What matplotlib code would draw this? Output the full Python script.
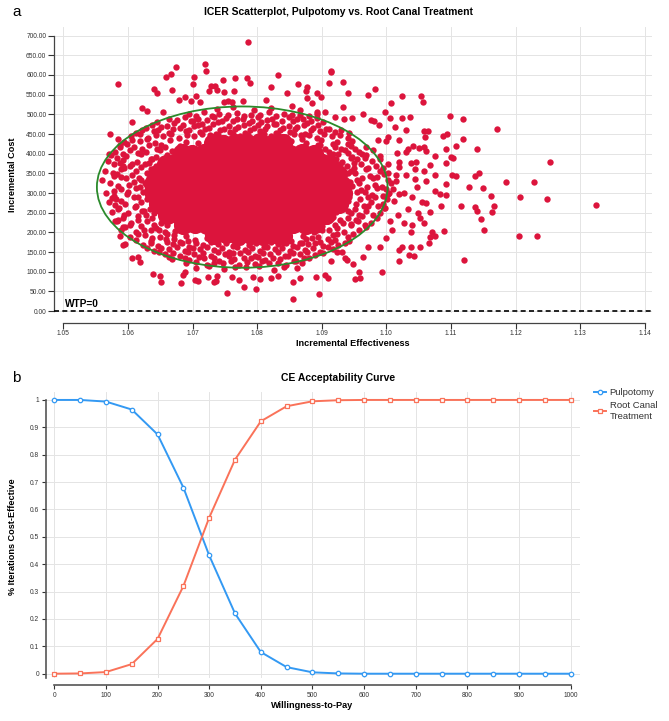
import numpy as np
import matplotlib
matplotlib.use("Agg")
import matplotlib.pyplot as plt
from matplotlib.patches import Ellipse

plt.rcParams["font.family"] = ["Liberation Sans", "DejaVu Sans"]

# ---------------- panel a: ICER scatter (incremental effectiveness, incremental cost)
# dense centre of the cloud (points overlap into a solid blob)
CORE_PTS = [
    (1.0733, 193), (1.0752, 195), (1.0771, 192), (1.0790, 194), (1.0809, 191), (1.0828, 195),
    (1.0840, 192),
    (1.0685, 219), (1.0704, 221), (1.0723, 218), (1.0742, 220), (1.0761, 217), (1.0780, 221),
    (1.0799, 218), (1.0818, 220), (1.0837, 217), (1.0856, 221), (1.0875, 218), (1.0889, 220),
    (1.0660, 245), (1.0679, 243), (1.0698, 246), (1.0717, 244), (1.0736, 247), (1.0755, 243),
    (1.0774, 246), (1.0793, 244), (1.0812, 247), (1.0831, 243), (1.0850, 246), (1.0869, 244),
    (1.0888, 247), (1.0907, 243),
    (1.0646, 271), (1.0665, 273), (1.0684, 270), (1.0703, 272), (1.0722, 269), (1.0741, 273),
    (1.0760, 270), (1.0779, 272), (1.0798, 269), (1.0817, 273), (1.0836, 270), (1.0855, 272),
    (1.0874, 269), (1.0893, 273), (1.0912, 270), (1.0927, 272),
    (1.0640, 297), (1.0657, 295), (1.0676, 298), (1.0695, 296), (1.0714, 299), (1.0733, 295),
    (1.0752, 298), (1.0771, 296), (1.0790, 299), (1.0809, 295), (1.0828, 298), (1.0847, 296),
    (1.0866, 299), (1.0885, 295), (1.0904, 298), (1.0921, 296), (1.0933, 299),
    (1.0639, 323), (1.0650, 325), (1.0669, 322), (1.0688, 324), (1.0707, 321), (1.0726, 325),
    (1.0745, 322), (1.0764, 324), (1.0783, 321), (1.0802, 325), (1.0821, 322), (1.0840, 324),
    (1.0859, 321), (1.0878, 325), (1.0897, 322), (1.0916, 324), (1.0932, 321),
    (1.0645, 349), (1.0660, 347), (1.0679, 350), (1.0698, 348), (1.0717, 351), (1.0736, 347),
    (1.0755, 350), (1.0774, 348), (1.0793, 351), (1.0812, 347), (1.0831, 350), (1.0850, 348),
    (1.0869, 351), (1.0888, 347), (1.0907, 350), (1.0926, 348),
    (1.0659, 375), (1.0672, 377), (1.0691, 374), (1.0710, 376), (1.0729, 373), (1.0748, 377),
    (1.0767, 374), (1.0786, 376), (1.0805, 373), (1.0824, 377), (1.0843, 374), (1.0862, 376),
    (1.0881, 373), (1.0900, 377), (1.0912, 374),
    (1.0684, 401), (1.0699, 399), (1.0718, 402), (1.0737, 400), (1.0756, 403), (1.0775, 399),
    (1.0794, 402), (1.0813, 400), (1.0832, 403), (1.0851, 399), (1.0870, 402), (1.0888, 400),
    (1.0732, 427), (1.0747, 425), (1.0766, 428), (1.0785, 426), (1.0804, 429), (1.0823, 425),
    (1.0840, 428),
]

# crowded points hugging the solid centre
BAND_PTS = [
    (1.0618, 449), (1.0643, 447), (1.0667, 450), (1.0692, 448), (1.0715, 451), (1.0739, 447),
    (1.0762, 449), (1.0786, 448), (1.0810, 451), (1.0833, 447), (1.0857, 450), (1.0880, 448),
    (1.0904, 451), (1.0928, 447),
    (1.0622, 461), (1.0647, 459), (1.0670, 462), (1.0695, 460), (1.0719, 463), (1.0742, 459),
    (1.0766, 462), (1.0789, 460), (1.0812, 463), (1.0836, 459), (1.0859, 462), (1.0883, 460),
    (1.0906, 463), (1.0930, 459),
    (1.0637, 473), (1.0660, 471), (1.0685, 474), (1.0709, 472), (1.0732, 475), (1.0756, 471),
    (1.0779, 474), (1.0802, 472), (1.0826, 475), (1.0849, 471), (1.0872, 474), (1.0895, 472),
    (1.0676, 485), (1.0700, 483), (1.0722, 486), (1.0746, 484), (1.0769, 487), (1.0792, 483),
    (1.0815, 486), (1.0838, 484), (1.0861, 487), (1.0884, 483),
    (1.0706, 497), (1.0730, 495), (1.0755, 498), (1.0780, 496), (1.0805, 499), (1.0830, 495),
    (1.0854, 498), (1.0880, 496),
    (1.0636, 173), (1.0660, 175), (1.0683, 172), (1.0706, 174), (1.0729, 176), (1.0752, 172),
    (1.0775, 175), (1.0798, 173), (1.0821, 176), (1.0844, 172), (1.0867, 174), (1.0890, 173),
    (1.0914, 175), (1.0936, 172),
    (1.0630, 161), (1.0652, 159), (1.0676, 162), (1.0700, 160), (1.0723, 163), (1.0746, 159),
    (1.0769, 162), (1.0792, 160), (1.0816, 163), (1.0839, 159), (1.0862, 162), (1.0886, 160),
    (1.0909, 163),
    (1.0648, 149), (1.0670, 147), (1.0693, 150), (1.0716, 148), (1.0740, 151), (1.0763, 147),
    (1.0786, 150), (1.0809, 148), (1.0832, 151), (1.0855, 147), (1.0878, 150), (1.0902, 148),
    (1.0664, 137), (1.0688, 135), (1.0710, 138), (1.0734, 136), (1.0757, 139), (1.0780, 135),
    (1.0802, 138), (1.0825, 136), (1.0848, 139), (1.0872, 135),
    (1.0706, 125), (1.0734, 123), (1.0759, 126), (1.0784, 124), (1.0808, 127), (1.0832, 123),
    (1.0857, 126),
    (1.0726, 114), (1.0766, 112), (1.0803, 115), (1.0842, 113),
    (1.0606, 435), (1.0629, 437), (1.0652, 423), (1.0599, 425), (1.0622, 411), (1.0645, 413),
    (1.0592, 399), (1.0615, 401), (1.0638, 387), (1.0583, 389), (1.0607, 375), (1.0633, 377),
    (1.0594, 363), (1.0620, 365), (1.0577, 351), (1.0617, 339), (1.0589, 341), (1.0610, 327),
    (1.0584, 317), (1.0618, 315), (1.0600, 303), (1.0578, 293), (1.0616, 291), (1.0590, 279),
    (1.0612, 267), (1.0580, 269), (1.0625, 255), (1.0594, 243), (1.0628, 243), (1.0585, 231),
    (1.0615, 231), (1.0640, 219), (1.0604, 219), (1.0625, 207), (1.0648, 207), (1.0615, 195),
    (1.0660, 197), (1.0637, 185), (1.0671, 183), (1.0693, 177),
    (1.0870, 437), (1.0895, 423), (1.0918, 424), (1.0940, 425), (1.0905, 411), (1.0930, 413),
    (1.0952, 412), (1.0918, 399), (1.0941, 401), (1.0962, 400), (1.0922, 387), (1.0945, 389),
    (1.0967, 388), (1.0990, 386), (1.0928, 375), (1.0950, 377), (1.0972, 363), (1.0950, 363),
    (1.0995, 364), (1.0940, 351), (1.0963, 339), (1.0986, 341), (1.0944, 327), (1.0970, 315),
    (1.0947, 317), (1.0993, 316), (1.0967, 303), (1.0943, 291), (1.0972, 289), (1.0995, 292),
    (1.0941, 279), (1.0965, 267), (1.0987, 268), (1.0940, 255), (1.0958, 243), (1.0980, 244),
    (1.0929, 231), (1.0953, 231), (1.0920, 219), (1.0945, 220), (1.0967, 219), (1.0900, 207),
    (1.0923, 195), (1.0948, 197), (1.0885, 185), (1.0910, 183), (1.0870, 172),
]

# busy band around the centre
RING_PTS = [
    (1.0738, 514), (1.0762, 518), (1.0795, 512), (1.0821, 516),
    (1.0655, 505), (1.0695, 501), (1.0718, 506), (1.0741, 500), (1.0769, 504), (1.0790, 499),
    (1.0818, 505), (1.0842, 502), (1.0866, 498), (1.0893, 500),
    (1.0664, 489), (1.0689, 493), (1.0708, 488), (1.0733, 494), (1.0752, 490), (1.0778, 487),
    (1.0801, 492), (1.0823, 489), (1.0849, 494), (1.0871, 488), (1.0893, 491),
    (1.0645, 481), (1.0671, 477), (1.0697, 482), (1.0715, 476), (1.0740, 480), (1.0763, 483),
    (1.0787, 477), (1.0806, 481), (1.0830, 476), (1.0855, 482), (1.0878, 478), (1.0902, 480),
    (1.0628, 465), (1.0652, 469), (1.0680, 464), (1.0702, 470), (1.0726, 466), (1.0749, 463),
    (1.0771, 468), (1.0795, 465), (1.0816, 470), (1.0840, 464), (1.0862, 469), (1.0887, 466),
    (1.0912, 463),
    (1.0612, 453), (1.0640, 457), (1.0664, 452), (1.0690, 458), (1.0711, 454), (1.0737, 451),
    (1.0758, 456), (1.0782, 453), (1.0805, 458), (1.0829, 452), (1.0851, 456), (1.0874, 451),
    (1.0897, 457), (1.0921, 454), (1.0943, 452),
    (1.0605, 445), (1.0631, 441), (1.0655, 446), (1.0679, 440), (1.0703, 444), (1.0727, 447),
    (1.0750, 441), (1.0774, 445), (1.0798, 440), (1.0821, 446), (1.0845, 442), (1.0868, 447),
    (1.0892, 441), (1.0916, 445), (1.0940, 440),
    (1.0594, 429), (1.0618, 433), (1.0642, 428), (1.0665, 434), (1.0690, 430), (1.0708, 427),
    (1.0722, 425), (1.0838, 426),
    (1.0852, 432), (1.0876, 428), (1.0899, 434), (1.0923, 429), (1.0947, 433),
    (1.0587, 421), (1.0610, 417), (1.0633, 422), (1.0657, 416), (1.0680, 420),
    (1.0874, 418), (1.0898, 422), (1.0921, 416), (1.0946, 420), (1.0968, 417),
    (1.0580, 405), (1.0604, 409), (1.0628, 404), (1.0650, 410), (1.0668, 406),
    (1.0890, 408), (1.0912, 404), (1.0936, 410), (1.0958, 405), (1.0979, 409),
    (1.0574, 397), (1.0597, 393), (1.0621, 398), (1.0643, 392), (1.0660, 396),
    (1.0901, 394), (1.0925, 398), (1.0947, 392), (1.0969, 397), (1.0990, 393),
    (1.0569, 381), (1.0592, 385), (1.0614, 380), (1.0636, 386), (1.0652, 382),
    (1.0910, 384), (1.0932, 380), (1.0955, 386), (1.0978, 381),
    (1.0578, 373), (1.0603, 369), (1.0626, 374), (1.0644, 368),
    (1.0917, 372), (1.0939, 368), (1.0961, 374), (1.0984, 369), (1.1003, 373),
    (1.0565, 357), (1.0590, 361), (1.0612, 356), (1.0636, 362),
    (1.0924, 360), (1.0945, 356), (1.0968, 362), (1.0990, 357),
    (1.0583, 349), (1.0606, 345), (1.0630, 350),
    (1.0928, 346), (1.0951, 350), (1.0975, 344), (1.0997, 349), (1.1015, 345),
    (1.0560, 333), (1.0597, 337), (1.0620, 332), (1.0632, 338),
    (1.0931, 336), (1.0955, 332), (1.0979, 338), (1.1002, 333),
    (1.0572, 325), (1.0601, 321), (1.0627, 326),
    (1.0934, 322), (1.0957, 326), (1.0982, 320), (1.1008, 325),
    (1.0589, 309), (1.0613, 313), (1.0630, 308),
    (1.0935, 312), (1.0961, 308), (1.0986, 314), (1.0999, 309),
    (1.0566, 301), (1.0598, 297), (1.0624, 302),
    (1.0932, 298), (1.0955, 302), (1.0978, 296), (1.1004, 301), (1.1020, 297),
    (1.0581, 285), (1.0609, 289), (1.0629, 284),
    (1.0936, 288), (1.0960, 284), (1.0983, 290), (1.1001, 285),
    (1.0570, 277), (1.0596, 273), (1.0620, 278), (1.0637, 272),
    (1.0930, 276), (1.0953, 272), (1.0977, 278), (1.0995, 273),
    (1.0586, 261), (1.0611, 265), (1.0634, 260),
    (1.0927, 264), (1.0951, 260), (1.0972, 266), (1.0996, 261),
    (1.0575, 253), (1.0600, 249), (1.0622, 254), (1.0640, 248),
    (1.0922, 252), (1.0946, 248), (1.0969, 254), (1.0991, 249),
    (1.0592, 237), (1.0615, 241), (1.0638, 236),
    (1.0917, 240), (1.0940, 236), (1.0962, 242), (1.0985, 237),
    (1.0580, 229), (1.0605, 225), (1.0629, 230), (1.0651, 224),
    (1.0910, 228), (1.0933, 224), (1.0956, 230), (1.0977, 225),
    (1.0596, 213), (1.0620, 217), (1.0643, 212), (1.0661, 218),
    (1.0900, 216), (1.0924, 212), (1.0946, 218), (1.0968, 213),
    (1.0590, 205), (1.0612, 201), (1.0636, 206), (1.0657, 200), (1.0673, 204),
    (1.0888, 202), (1.0911, 206), (1.0934, 200), (1.0957, 205),
    (1.0604, 189), (1.0627, 193), (1.0650, 188), (1.0672, 194), (1.0690, 190),
    (1.0722, 186), (1.0736, 180), (1.0826, 184), (1.0840, 189),
    (1.0871, 192), (1.0894, 188), (1.0917, 194), (1.0940, 189),
    (1.0612, 181), (1.0635, 177), (1.0659, 182), (1.0681, 176), (1.0704, 180),
    (1.0852, 178), (1.0875, 182), (1.0898, 176), (1.0921, 181), (1.0943, 177),
    (1.0624, 169), (1.0647, 165), (1.0670, 170), (1.0694, 164), (1.0717, 168), (1.0740, 171),
    (1.0763, 165), (1.0787, 169), (1.0810, 164), (1.0833, 170), (1.0856, 166), (1.0879, 171),
    (1.0902, 165), (1.0926, 169),
    (1.0640, 153), (1.0664, 157), (1.0688, 152), (1.0711, 158), (1.0734, 154), (1.0757, 151),
    (1.0781, 156), (1.0804, 153), (1.0827, 158), (1.0851, 152), (1.0874, 156), (1.0897, 151),
    (1.0918, 157),
    (1.0658, 145), (1.0681, 141), (1.0703, 146), (1.0728, 140), (1.0750, 144), (1.0774, 147),
    (1.0797, 141), (1.0820, 145), (1.0843, 140), (1.0866, 146), (1.0889, 142),
    (1.0669, 133), (1.0695, 129), (1.0718, 134), (1.0741, 128), (1.0765, 132), (1.0790, 135),
    (1.0812, 129), (1.0836, 133), (1.0860, 128), (1.0881, 134),
    (1.0690, 121), (1.0722, 117), (1.0747, 122), (1.0772, 116), (1.0796, 120), (1.0819, 123),
    (1.0845, 117), (1.0870, 121),
    (1.0705, 110), (1.0748, 106), (1.0783, 111), (1.0826, 105), (1.0861, 109),
]

# sparse points outside the band
OUTER_PTS = [
    (1.0584, 577), (1.0786, 685), (1.0674, 620), (1.0719, 627), (1.0721, 610), (1.0666, 603),
    (1.0659, 596), (1.0703, 596), (1.0832, 600), (1.0914, 607), (1.0785, 592), (1.0789, 580),
    (1.0766, 592), (1.0747, 587), (1.0700, 576), (1.0729, 573), (1.0735, 573), (1.0640, 565),
    (1.0645, 554), (1.0668, 561), (1.0726, 559), (1.0738, 561), (1.0748, 556), (1.0764, 560),
    (1.0822, 570), (1.0863, 578), (1.0878, 570), (1.0846, 553), (1.0876, 560), (1.0911, 580),
    (1.0892, 554), (1.0899, 545), (1.0622, 517), (1.0606, 480), (1.0572, 450), (1.0585, 437),
    (1.0587, 418), (1.0570, 400), (1.0587, 376), (1.0578, 344), (1.0593, 369), (1.0630, 509),
    (1.0679, 537), (1.0688, 545), (1.0698, 534), (1.0705, 547), (1.0712, 531), (1.0749, 531),
    (1.0755, 533), (1.0761, 531), (1.0778, 533), (1.0814, 537), (1.0854, 520), (1.0866, 512),
    (1.0877, 541), (1.0885, 530), (1.0893, 506), (1.0905, 506), (1.0921, 492),
    (1.0915, 609), (1.0933, 583), (1.0941, 553), (1.0983, 565), (1.0971, 549), (1.1007, 528),
    (1.1025, 546), (1.1054, 547), (1.1057, 532), (1.0933, 519), (1.0998, 506), (1.0964, 501),
    (1.0947, 491), (1.0934, 489), (1.1024, 490), (1.1037, 492), (1.1005, 491), (1.0976, 486),
    (1.0981, 482), (1.0988, 472), (1.1013, 469), (1.1098, 497), (1.1118, 488), (1.1172, 463),
    (1.1031, 461), (1.1058, 458), (1.1064, 458), (1.1060, 442), (1.1087, 445), (1.1094, 451),
    (1.1118, 438), (1.1019, 435), (1.1003, 442), (1.0999, 433), (1.0987, 435), (1.1140, 412),
    (1.1108, 420), (1.1093, 413), (1.1253, 380), (1.1041, 419), (1.1034, 412), (1.1050, 414),
    (1.1059, 416), (1.1062, 407), (1.1030, 404), (1.1016, 402), (1.1075, 394), (1.1100, 392),
    (1.1104, 389), (1.1093, 376), (1.1138, 344), (1.1144, 350), (1.1068, 372), (1.1038, 377),
    (1.1046, 380), (1.1019, 379),
    (1.1324, 270), (1.1229, 329), (1.1249, 284), (1.1186, 328), (1.1207, 289), (1.1205, 190),
    (1.1233, 190), (1.1120, 130), (1.1151, 206), (1.1146, 234), (1.1140, 254), (1.1163, 251),
    (1.1166, 267), (1.1162, 293), (1.1137, 265), (1.1115, 268), (1.1149, 312), (1.1128, 315),
    (1.1108, 342), (1.1101, 346), (1.1093, 323), (1.1083, 298), (1.1092, 295), (1.1084, 267),
    (1.1089, 204), (1.1070, 200), (1.1068, 189), (1.1066, 172), (1.1075, 191), (1.1076, 306),
    (1.1055, 278), (1.1061, 274), (1.1052, 236), (1.1059, 223), (1.1039, 200), (1.1040, 219),
    (1.1039, 164), (1.1052, 164), (1.1043, 140), (1.1035, 143), (1.1019, 128), (1.1025, 164),
    (1.1020, 155), (1.0993, 98), (1.0958, 98), (1.0952, 81), (1.0960, 83), (1.0948, 119),
    (1.0990, 162), (1.0964, 137), (1.0971, 162), (1.0936, 134), (1.0915, 126), (1.0923, 151),
    (1.0931, 151), (1.0939, 130),
    (1.1003, 350), (1.1015, 330), (1.1030, 345), (1.1045, 335), (1.1010, 310), (1.1028, 300),
    (1.1040, 290), (1.1012, 280), (1.1033, 260), (1.1018, 245), (1.1005, 230), (1.1027, 225),
    (1.1009, 205), (1.1000, 185), (1.1048, 315), (1.1062, 330), (1.1058, 355), (1.1045, 362),
    (1.1075, 345), (1.1020, 365), (1.1068, 252), (1.1049, 250), (1.0998, 262), (1.1003, 298),
    (1.0753, 47), (1.0855, 31), (1.0896, 44), (1.0779, 60), (1.0798, 55), (1.0575, 287),
    (1.0584, 259), (1.0592, 168), (1.0606, 134), (1.0615, 138), (1.0619, 124), (1.0596, 171),
    (1.0639, 94), (1.0650, 89), (1.0652, 75), (1.0685, 91), (1.0688, 100), (1.0709, 76),
    (1.0724, 86), (1.0737, 76), (1.0738, 89), (1.0761, 87), (1.0772, 79), (1.0793, 87),
    (1.0805, 81), (1.0822, 83), (1.0833, 90), (1.0855, 75), (1.0866, 83), (1.0891, 87),
    (1.0905, 91), (1.0910, 85), (1.0592, 213), (1.0587, 190), (1.0578, 305), (1.0583, 228),
    (1.0682, 70), (1.0704, 78), (1.0733, 73),
]

ELLIPSE_CENTER = (1.0777, 315)
ELLIPSE_WIDTH = 0.045
ELLIPSE_HEIGHT = 410
WTP_LINE = 0.0

X_TICKS_A = [1.05, 1.06, 1.07, 1.08, 1.09, 1.10, 1.11, 1.12, 1.13, 1.14]
Y_TICKS_A = [0, 50, 100, 150, 200, 250, 300, 350, 400, 450, 500, 550, 600, 650, 700]

# ---------------- panel b: acceptability curve
WTP = [0, 50, 100, 150, 200, 250, 300, 350, 400, 450, 500,
       550, 600, 650, 700, 750, 800, 850, 900, 950, 1000]
PULPOTOMY = [1.0, 1.0, 0.994, 0.965, 0.874, 0.680, 0.432, 0.220, 0.079, 0.024, 0.005,
             0.001, 0.0, 0.0, 0.0, 0.0, 0.0, 0.0, 0.0, 0.0, 0.0]
ROOT_CANAL = [0.0, 0.001, 0.006, 0.035, 0.127, 0.320, 0.570, 0.782, 0.922, 0.977, 0.995,
              0.999, 1.0, 1.0, 1.0, 1.0, 1.0, 1.0, 1.0, 1.0, 1.0]
X_TICKS_B = list(range(0, 1001, 100))
Y_TICKS_B = [0, 0.1, 0.2, 0.3, 0.4, 0.5, 0.6, 0.7, 0.8, 0.9, 1.0]
Y_LABELS_B = ["0", "0.1", "0.2", "0.3", "0.4", "0.5", "0.6", "0.7", "0.8", "0.9", "1"]

RED = "#dc143c"
GREEN = "#2b8a2b"
BLUE = "#3399f3"
SALMON = "#fa7259"
GRID = "#e4e4e4"
TXT = "#333333"

W, H = 669, 721
fig = plt.figure(figsize=(W / 100, H / 100), dpi=100)


def fig_box(left, top, right, bottom):
    """pixel box -> figure-fraction rect"""
    return [left / W, 1 - bottom / H, (right - left) / W, (bottom - top) / H]


# ---- panel a
ax = fig.add_axes(fig_box(54, 27, 652, 313))
ax.set_xlim(1.04856, 1.14113)
ax.set_ylim(-5, 722)
ax.grid(True, color=GRID, lw=0.7)
ax.set_axisbelow(True)

core = np.array(CORE_PTS)
ax.scatter(core[:, 0], core[:, 1], s=190, color=RED, lw=0, zorder=2)
for pts in (BAND_PTS, RING_PTS, OUTER_PTS):
    arr = np.array(pts)
    ax.scatter(arr[:, 0], arr[:, 1], s=21, color=RED, lw=0, zorder=2)
ax.add_patch(Ellipse(ELLIPSE_CENTER, ELLIPSE_WIDTH, ELLIPSE_HEIGHT, fill=False,
                     edgecolor=GREEN, lw=1.3, zorder=3))
ax.axhline(WTP_LINE, color="black", lw=1.2, ls=(0, (3, 2)), zorder=3)
ax.text(1.0503, 5, "WTP=0", fontsize=7.3, fontweight="bold", va="bottom", ha="left", zorder=4)

ax.set_xticks(X_TICKS_A)
ax.set_xticklabels([f"{v:.2f}" for v in X_TICKS_A])
ax.set_yticks(Y_TICKS_A)
ax.set_yticklabels([f"{v:.2f}" for v in Y_TICKS_A])
for s in ("top", "right"):
    ax.spines[s].set_visible(False)
ax.spines["left"].set_bounds(0, 700)
ax.spines["bottom"].set_position(("outward", 7))
ax.spines["bottom"].set_bounds(1.05, 1.14)
for s in ("left", "bottom"):
    ax.spines[s].set_color("#444444")
    ax.spines[s].set_linewidth(0.9)
ax.tick_params(labelsize=4.8, colors=TXT, length=4, width=0.8, pad=1.5)

# ---- panel b
bx = fig.add_axes(fig_box(46, 392, 580, 678))
bx.set_xlim(-16, 1018)
bx.set_ylim(-0.0157, 1.029)
bx.grid(True, color=GRID, lw=0.7)
bx.set_axisbelow(True)
bx.plot(WTP, PULPOTOMY, color=BLUE, lw=1.4, marker="o", ms=3.2, mfc="white",
        mec=BLUE, mew=0.9, label="Pulpotomy")
bx.plot(WTP, ROOT_CANAL, color=SALMON, lw=1.4, marker="s", ms=2.8, mfc="white",
        mec=SALMON, mew=0.9, label="Root Canal\nTreatment")
bx.set_xticks(X_TICKS_B)
bx.set_yticks(Y_TICKS_B)
bx.set_yticklabels(Y_LABELS_B)
for s in ("top", "right"):
    bx.spines[s].set_visible(False)
bx.spines["left"].set_bounds(-0.0157, 1.0)
bx.spines["bottom"].set_position(("outward", 5))
bx.spines["bottom"].set_bounds(0, 1000)
for s in ("left", "bottom"):
    bx.spines[s].set_color("#555555")
    bx.spines[s].set_linewidth(1.2)
bx.tick_params(labelsize=4.8, colors=TXT, length=3, width=0.8, pad=2)
bx.legend(loc="upper left", bbox_to_anchor=(594 / W, 1 - 388 / H),
          bbox_transform=fig.transFigure, frameon=False, fontsize=6.8,
          handlelength=1.3, handletextpad=0.35, labelspacing=0.45,
          borderpad=0, borderaxespad=0, labelcolor=TXT)

# ---- titles and axis labels
fig.text(12 / W, 1 - 12 / H, "a", fontsize=11, va="center", ha="left")
fig.text(338 / W, 1 - 12 / H, "ICER Scatterplot, Pulpotomy vs. Root Canal Treatment",
         fontsize=7.5, fontweight="bold", ha="center", va="center")
fig.text(13 / W, 1 - 175 / H, "Incremental Cost", fontsize=6.6, fontweight="bold",
         rotation=90, ha="center", va="center")
fig.text(353 / W, 1 - 343 / H, "Incremental Effectiveness", fontsize=6.6,
         fontweight="bold", ha="center", va="center")

fig.text(12 / W, 1 - 378 / H, "b", fontsize=11, va="center", ha="left")
fig.text(338 / W, 1 - 378 / H, "CE Acceptability Curve", fontsize=7.5,
         fontweight="bold", ha="center", va="center")
fig.text(13 / W, 1 - 537 / H, "% Iterations Cost-Effective", fontsize=6.6,
         fontweight="bold", rotation=90, ha="center", va="center")
fig.text(312 / W, 1 - 705 / H, "Willingness-to-Pay", fontsize=6.6, fontweight="bold",
         ha="center", va="center")

fig.savefig("out.png", dpi=100, facecolor="white")
